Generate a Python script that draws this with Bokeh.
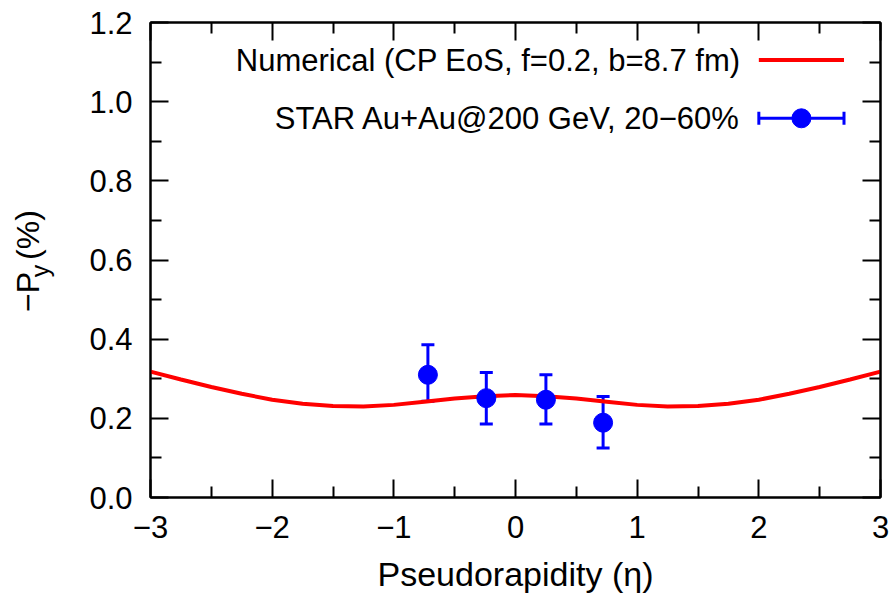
from bokeh.plotting import figure
from bokeh.layouts import row
from bokeh.models import (ColumnDataSource, Whisker, TeeHead, Label, LinearAxis,
                          FixedTicker, Range1d, CustomJSTickFormatter)
from bokeh.core.properties import value
from bokeh.embed import file_html
from bokeh.resources import INLINE

# Model curve: -P_y (%) vs pseudorapidity
eta_model = [-3.0, -2.75, -2.5, -2.25, -2.0, -1.75, -1.5, -1.25, -1.0, -0.75, -0.5, -0.25,
             0.0, 0.25, 0.5, 0.75, 1.0, 1.25, 1.5, 1.75, 2.0, 2.25, 2.5, 2.75, 3.0]
py_model = [0.318, 0.298, 0.279, 0.262, 0.247, 0.237, 0.231, 0.230, 0.234, 0.242, 0.250, 0.256,
            0.259, 0.256, 0.250, 0.242, 0.234, 0.230, 0.231, 0.237, 0.247, 0.262, 0.279, 0.298, 0.318]

# STAR data points with uncertainties
eta_star = [-0.72, -0.24, 0.25, 0.72]
py_star = [0.31, 0.251, 0.247, 0.189]
py_err_lo = [0.243, 0.186, 0.186, 0.125]
py_err_hi = [0.386, 0.316, 0.310, 0.255]

x_ticks = [-3, -2, -1, 0, 1, 2, 3]
y_ticks = [0.0, 0.2, 0.4, 0.6, 0.8, 1.0, 1.2]
x_tick_labels = ["\u22123", "\u22122", "\u22121", "0", "1", "2", "3"]
y_tick_labels = ["0.0", "0.2", "0.4", "0.6", "0.8", "1.0", "1.2"]

model_label = "Numerical (CP EoS, f=0.2, b=8.7 fm)"
star_label = "STAR Au+Au@200 GeV, 20\u221260%"

# Y-axis title pieces: main text, subscript, unit
ylabel_parts = ["\u2212P", "y", "(%)"]

FONT = "Liberation Sans"
FS = "31px"
RED = "#ff0000"
BLUE = "#0000ff"

W, H = 894, 595
LEFT_W = 70                   # strip that carries the rotated y-axis title
FRAME_L, FRAME_T, FRAME_B = 150, 22, 498   # frame edges on the page

# ---- narrow strip with the y-axis title; the row aligns its frame with the
# main plot's frame, so its y range runs over the same page rows (downwards)
lab = figure(width=LEFT_W, height=H, output_backend="svg", toolbar_location=None,
             x_range=Range1d(0, LEFT_W), y_range=Range1d(FRAME_B, FRAME_T),
             x_axis_type=None, y_axis_type=None, min_border=0)
lab.outline_line_color = None
lab.background_fill_color = "white"
lab.border_fill_color = "white"
lab_src = ColumnDataSource(dict(x=[27, 39, 27], y=[292, 271, 235], text=ylabel_parts,
                                size=["32px", "25px", "32px"]))
lab.text("x", "y", text="text", source=lab_src, angle=1.5708, text_font=value(FONT),
         text_font_size="size", text_color="black", text_align="center",
         text_baseline="middle")

# ---- main plot
p = figure(width=W - LEFT_W, height=H, output_backend="svg", toolbar_location=None,
           x_range=Range1d(-3, 3), y_range=Range1d(0, 1.2),
           min_border_left=FRAME_L - LEFT_W, min_border_right=14, min_border_top=FRAME_T,
           min_border_bottom=H - FRAME_B)
p.xgrid.visible = False
p.ygrid.visible = False
p.outline_line_color = "black"
p.outline_line_width = 2
p.background_fill_color = "white"
p.border_fill_color = "white"

xt = FixedTicker(ticks=x_ticks, minor_ticks=[-2.5, -1.5, -0.5, 0.5, 1.5, 2.5])
yt = FixedTicker(ticks=y_ticks, minor_ticks=[0.1, 0.3, 0.5, 0.7, 0.9, 1.1])


def style_axis(ax):
    ax.axis_line_color = "black"
    ax.axis_line_width = 2
    ax.major_tick_line_color = "black"
    ax.major_tick_line_width = 2
    ax.minor_tick_line_color = "black"
    ax.minor_tick_line_width = 2
    ax.major_tick_in = 18
    ax.major_tick_out = 0
    ax.minor_tick_in = 11
    ax.minor_tick_out = 0
    ax.major_label_text_font = FONT
    ax.major_label_text_font_size = FS
    ax.major_label_text_color = "black"
    ax.major_label_standoff = 18


p.xaxis.ticker = xt
p.yaxis.ticker = yt
p.xaxis.major_label_overrides = {t: s for t, s in zip(x_ticks, x_tick_labels)}
p.yaxis.major_label_overrides = {t: s for t, s in zip(y_ticks, y_tick_labels)}
style_axis(p.xaxis[0])
style_axis(p.yaxis[0])
p.xaxis.axis_label = "Pseudorapidity (\u03b7)"
p.xaxis.axis_label_text_font = FONT
p.xaxis.axis_label_text_font_size = "34px"
p.xaxis.axis_label_text_font_style = "normal"
p.xaxis.axis_label_text_color = "black"
p.xaxis.axis_label_standoff = 14

# Mirror ticks on the top and right edges, without labels
blank = CustomJSTickFormatter(code="return ''")
top = LinearAxis(ticker=xt, formatter=blank)
right = LinearAxis(ticker=yt, formatter=blank)
style_axis(top)
style_axis(right)
top.major_label_standoff = 0
right.major_label_standoff = 0
p.add_layout(top, "above")
p.add_layout(right, "right")

# Model curve
p.line(eta_model, py_model, line_color=RED, line_width=4)

# STAR points with error bars
src = ColumnDataSource(dict(x=eta_star, y=py_star, lo=py_err_lo, hi=py_err_hi))
p.add_layout(Whisker(source=src, base="x", lower="lo", upper="hi", dimension="height",
                     line_color=BLUE, line_width=3,
                     upper_head=TeeHead(size=13, line_color=BLUE, line_width=3),
                     lower_head=TeeHead(size=13, line_color=BLUE, line_width=3)))
p.scatter("x", "y", source=src, size=19, color=BLUE)

# Legend (text on the left, sample on the right)
leg_text_x = 1.85
leg_x0, leg_x1 = 2.0, 2.7
leg_y1, leg_y2 = 1.105, 0.958
p.add_layout(Label(x=leg_text_x, y=leg_y1, text=model_label, text_align="right",
                   text_baseline="middle", text_font=FONT, text_font_size=FS,
                   text_color="black"))
p.add_layout(Label(x=leg_text_x, y=leg_y2, text=star_label, text_align="right",
                   text_baseline="middle", text_font=FONT, text_font_size=FS,
                   text_color="black"))
p.line([leg_x0, leg_x1], [leg_y1, leg_y1], line_color=RED, line_width=4)
leg_src = ColumnDataSource(dict(y=[leg_y2], lo=[leg_x0], hi=[leg_x1], x=[(leg_x0 + leg_x1) / 2]))
p.add_layout(Whisker(source=leg_src, base="y", lower="lo", upper="hi", dimension="width",
                     line_color=BLUE, line_width=3,
                     upper_head=TeeHead(size=13, line_color=BLUE, line_width=3),
                     lower_head=TeeHead(size=13, line_color=BLUE, line_width=3)))
p.scatter("x", "y", source=leg_src, size=19, color=BLUE)

layout = row(lab, p, spacing=0)
open("out.html", "w").write(file_html(layout, INLINE))
